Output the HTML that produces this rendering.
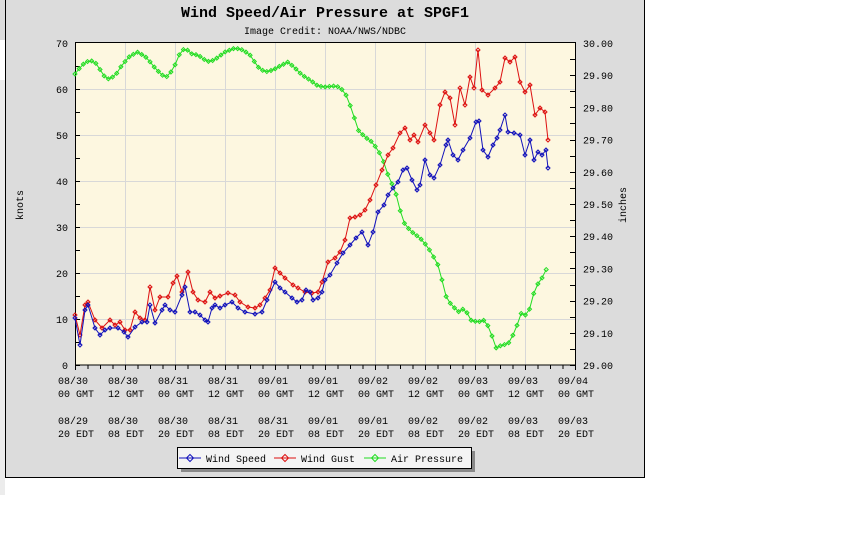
<!DOCTYPE html>
<html><head><meta charset="utf-8"><style>
html,body{margin:0;padding:0;background:#fff;width:864px;height:540px;overflow:hidden}
svg{display:block}
text{font-family:"Liberation Mono","DejaVu Sans Mono",monospace;font-size:10px;fill:#000}
</style></head><body>
<svg id="s" width="864" height="540" xmlns="http://www.w3.org/2000/svg">
<rect x="0" y="0" width="5" height="40" fill="#dcdcdc"/>
<rect x="0" y="80" width="5" height="415" fill="#ececec"/>
<rect x="5.5" y="-1" width="639" height="478.5" fill="#dcdcdc" stroke="#000"/>
<text x="325" y="17" text-anchor="middle" style="font-size:15px;font-weight:bold">Wind Speed/Air Pressure at SPGF1</text>
<text x="325" y="34" text-anchor="middle" style="font-size:10px">Image Credit: NOAA/NWS/NDBC</text>
<rect x="75" y="43" width="500" height="322" fill="#fdf7e0"/>
<g id="grid" stroke="#d8d8d8" stroke-width="1"></g>
<g id="ax"></g>
<rect x="75.5" y="42.5" width="500" height="322.5" fill="none" stroke="#000"/>
<g id="data"></g>
<text transform="translate(23,205) rotate(-90)" text-anchor="middle" style="font-size:10px">knots</text>
<text transform="translate(626,205) rotate(-90)" text-anchor="middle" style="font-size:10px">inches</text>
<rect x="181" y="451" width="294" height="21" fill="#888"/>
<rect x="177.5" y="447.5" width="294" height="21" fill="#f4f4f4" stroke="#000"/>
<g id="leg"></g>
</svg>
<script>
const NS="http://www.w3.org/2000/svg";
function el(p,t,a,txt){const e=document.createElementNS(NS,t);for(const k in a)e.setAttribute(k,a[k]);if(txt!==undefined)e.textContent=txt;document.getElementById(p).appendChild(e);return e;}
for(let i=1;i<10;i++){const x=75.5+i*50;el('grid','line',{x1:x,y1:43,x2:x,y2:365});}
for(let k=1;k<7;k++){const y=365.5-k*46;el('grid','line',{x1:75,y1:y,x2:575,y2:y});}
for(let k=0;k<=7;k++){const y=365-k*46;el('ax','text',{x:68,y:y+4,'text-anchor':'end'},String(k*10));}
for(let k=0;k<=10;k++){const y=365-k*32.2;el('ax','text',{x:583,y:y+4},(29+k/10).toFixed(2));}
for(let k=0;k<14;k++){const y=365.5-k*23;el('ax','line',{x1:75,y1:y,x2:80,y2:y,stroke:'#000'});}
for(let k=0;k<20;k++){const y=Math.round(365-k*16.1)+0.5;el('ax','line',{x1:570,y1:y,x2:575,y2:y,stroke:'#000'});}
for(let i=0;i<=40;i++){const x=75.5+i*12.5;el('ax','line',{x1:x,y1:365,x2:x,y2:i%4==0?370:369,stroke:'#000'});}
const g1=["08/30","08/30","08/31","08/31","09/01","09/01","09/02","09/02","09/03","09/03","09/04"],
g2=["00 GMT","12 GMT","00 GMT","12 GMT","00 GMT","12 GMT","00 GMT","12 GMT","00 GMT","12 GMT","00 GMT"],
e1=["08/29","08/30","08/30","08/31","08/31","09/01","09/01","09/02","09/02","09/03","09/03"],
e2=["20 EDT","08 EDT","20 EDT","08 EDT","20 EDT","08 EDT","20 EDT","08 EDT","20 EDT","08 EDT","20 EDT"];
for(let i=0;i<11;i++){const x=58+i*50;el('ax','text',{x:x,y:384},g1[i]);el('ax','text',{x:x,y:397},g2[i]);el('ax','text',{x:x,y:424},e1[i]);el('ax','text',{x:x,y:437},e2[i]);}
const P=[[75,74],[82,65],[90,60],[97,64],[103,75],[108,79],[115,76],[122,65],[130,56],[138,52],[147,58],[155,68],[162,75],[168,77],[175,65],[180,53],[185,48],[192,54],[198,55],[205,60],[210,62],[217,58],[225,52],[235,48],[243,50],[250,55],[258,67],[265,72],[273,70],[280,66],[288,62],[295,68],[302,75],[310,80],[318,86],[325,87],[333,86],[340,87],[346,95],[352,110],[358,130],[365,137],[372,142],[378,150],[383,160],[389,178],[395,190],[400,210],[405,225],[412,232],[420,238],[427,246],[432,254],[438,265],[442,280],[447,300],[452,305],[458,312],[465,308],[470,320],[478,322],[485,320],[490,330],[496,348],[502,345],[508,344],[513,335],[518,323],[520,313],[528,316],[532,298],[537,285],[541,280],[547,268]];
const W=[[75,318],[80,345],[85,310],[88,305],[95,328],[100,335],[105,330],[110,328],[118,328],[124,332],[128,337],[135,327],[142,322],[147,322],[150,305],[155,323],[162,310],[165,305],[170,310],[175,312],[182,295],[185,287],[190,312],[195,312],[200,315],[205,320],[208,322],[212,308],[215,305],[220,308],[225,305],[232,302],[238,308],[245,312],[255,314],[262,312],[267,300],[275,282],[280,288],[285,292],[292,298],[297,302],[302,300],[306,290],[310,292],[313,300],[318,298],[322,292],[325,280],[330,275],[337,263],[343,253],[350,245],[356,238],[362,232],[368,245],[373,232],[378,212],[384,205],[388,195],[393,188],[398,182],[403,170],[407,168],[412,180],[417,190],[420,185],[425,160],[430,175],[434,178],[440,165],[446,145],[448,140],[453,155],[458,160],[463,150],[470,138],[476,122],[479,121],[483,150],[488,157],[493,145],[497,138],[500,130],[505,115],[508,132],[514,133],[520,135],[525,155],[530,140],[534,160],[538,152],[542,155],[546,150],[548,168]];
const G=[[75,315],[80,335],[85,305],[88,302],[95,320],[102,328],[110,320],[115,325],[120,322],[125,330],[130,330],[135,312],[140,318],[145,320],[150,287],[155,310],[160,297],[168,297],[173,283],[177,276],[182,292],[188,272],[193,292],[198,300],[205,302],[210,292],[215,298],[220,296],[228,293],[235,295],[240,302],[248,307],[255,308],[260,305],[265,298],[270,290],[275,268],[280,273],[285,278],[293,285],[298,288],[305,292],[312,293],[318,292],[322,282],[328,262],[335,258],[340,252],[345,240],[350,218],[355,217],[360,215],[365,210],[370,200],[376,185],[382,170],[388,155],[393,148],[400,133],[405,128],[410,140],[414,135],[418,142],[425,125],[430,133],[434,140],[440,105],[445,92],[450,98],[455,125],[460,88],[465,105],[470,77],[474,88],[478,50],[482,90],[488,95],[495,88],[500,82],[505,58],[510,62],[515,57],[520,82],[525,92],[530,85],[535,115],[540,108],[545,112],[548,140]];
function resample(pts,step){const out=[];for(let x=pts[0][0];x<=pts[pts.length-1][0]+0.01;x+=step){let i=0;while(i<pts.length-2&&pts[i+1][0]<x)i++;const a=pts[i],b=pts[i+1];const t=Math.max(0,Math.min(1,(x-a[0])/(b[0]-a[0])));out.push([x,a[1]+(b[1]-a[1])*t]);}return out;}
function series(pts,col,rs){const p=rs?resample(pts,4.17):pts;el('data','polyline',{points:p.map(q=>q.join(',')).join(' '),fill:'none',stroke:col,'stroke-width':1});
 p.forEach(q=>el('data','path',{d:`M${q[0]},${q[1]-2}l2,2l-2,2l-2,-2z`,fill:'none',stroke:col,'stroke-width':1}));}
series(P,'#22dd22',true);series(G,'#dd1111',false);series(W,'#1111bb',false);
function leg(x,col,label){el('leg','line',{x1:x,y1:458,x2:x+22,y2:458,stroke:col});el('leg','path',{d:`M${x+11},${454.5}l3.5,3.5l-3.5,3.5l-3.5,-3.5z`,fill:'none',stroke:col});el('leg','text',{x:x+27,y:462},label);}
leg(179,'#1111bb','Wind Speed');leg(274,'#dd1111','Wind Gust');leg(364,'#22dd22','Air Pressure');
</script>
</body></html>
